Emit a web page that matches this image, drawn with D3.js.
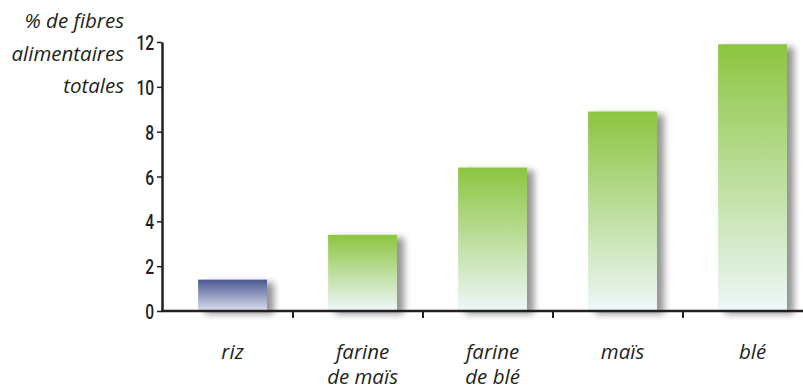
<!DOCTYPE html>
<html>
<head>
<meta charset="utf-8">
<script src="https://cdn.jsdelivr.net/npm/d3@7"></script>
<style>
  body { margin: 0; background: #fff; }
  svg { display: block; }
  .lbl { font-family: "Open Sans", "DejaVu Sans", sans-serif; font-style: italic; font-size: 20.5px; fill: #231f20; }
  .tick text { font-family: Roboto, "DejaVu Sans", sans-serif; font-weight: 500; font-size: 20px; fill: #231f20; }
</style>
</head>
<body>
<svg id="chart" width="803" height="390"></svg>
<script>
'use strict';

// data
var categories = ['riz', 'farine\nde maïs', 'farine\nde blé', 'maïs', 'blé'];
var fibreValues = [1.4, 3.4, 6.4, 8.9, 11.9];
var yTicks = [0, 2, 4, 6, 8, 10, 12];
var yTitle = ['% de fibres', 'alimentaires', 'totales'];

var svg = d3.select('#chart');
var ink = '#231f20';

var x = d3.scaleBand()
    .domain(categories)
    .range([163, 813]);

var y = d3.scaleLinear()
    .domain([0, 12])
    .range([311, 42]);

var defs = svg.append('defs');

var green = defs.append('linearGradient')
    .attr('id', 'grad-green')
    .attr('x1', 0).attr('y1', 0).attr('x2', 0).attr('y2', 1);
green.append('stop').attr('offset', '0%').attr('stop-color', '#8cc540');
green.append('stop').attr('offset', '100%').attr('stop-color', '#eef7f9');

var blue = defs.append('linearGradient')
    .attr('id', 'grad-blue')
    .attr('x1', 0).attr('y1', 0).attr('x2', 0).attr('y2', 1);
blue.append('stop').attr('offset', '0%').attr('stop-color', '#4c5892');
blue.append('stop').attr('offset', '100%').attr('stop-color', '#dae0ee');

var shadow = defs.append('filter')
    .attr('id', 'bar-shadow')
    .attr('x', '-30%').attr('y', '-30%')
    .attr('width', '160%').attr('height', '160%');
shadow.append('feGaussianBlur')
    .attr('in', 'SourceAlpha')
    .attr('stdDeviation', 3.5)
    .attr('result', 'blur');
shadow.append('feOffset')
    .attr('in', 'blur')
    .attr('dx', 7).attr('dy', 3)
    .attr('result', 'off');
shadow.append('feComponentTransfer')
    .attr('in', 'off')
    .attr('result', 'soft')
    .append('feFuncA')
    .attr('type', 'linear')
    .attr('slope', 0.42);
var merge = shadow.append('feMerge');
merge.append('feMergeNode').attr('in', 'soft');
merge.append('feMergeNode').attr('in', 'SourceGraphic');

// bars
svg.append('g')
    .selectAll('rect')
    .data(fibreValues)
    .enter()
    .append('rect')
    .attr('x', function (d, i) {
        return x(categories[i]) + x.bandwidth() * 0.27;
    })
    .attr('width', x.bandwidth() * 0.53)
    .attr('y', function (d) {
        return y(d);
    })
    .attr('height', function (d) {
        return y(0) - y(d);
    })
    .attr('fill', function (d, i) {
        return i === 0 ? 'url(#grad-blue)' : 'url(#grad-green)';
    })
    .attr('filter', 'url(#bar-shadow)');

// y axis
var yAxis = svg.append('g')
    .attr('transform', 'translate(162,0)')
    .call(d3.axisLeft(y).tickValues(yTicks).tickSize(5).tickPadding(5).tickSizeOuter(0));
yAxis.select('.domain').attr('stroke', ink).attr('stroke-width', 2.5);
yAxis.selectAll('.tick line').attr('stroke', ink).attr('stroke-width', 1.5);
// narrow the digits, like the condensed face of the original
yAxis.selectAll('.tick text')
    .attr('x', -10)
    .attr('dy', '0.36em')
    .attr('transform', 'scale(0.78,1.05)');
yAxis.attr('font-family', null).attr('font-size', null);

// x axis
var xAxis = svg.append('g')
    .attr('transform', 'translate(0,' + y(0) + ')')
    .call(d3.axisBottom(x).tickSize(0).tickFormat(''));
xAxis.select('.domain')
    .attr('d', 'M161,0H803')
    .attr('stroke', ink)
    .attr('stroke-width', 2.5);
xAxis.selectAll('.tick').remove();

// separators between categories
svg.append('g')
    .selectAll('line')
    .data(categories.slice(1))
    .enter()
    .append('line')
    .attr('x1', function (d) { return x(d); })
    .attr('x2', function (d) { return x(d); })
    .attr('y1', y(0))
    .attr('y2', y(0) + 7)
    .attr('stroke', ink)
    .attr('stroke-width', 2);

// category labels
var labels = svg.append('g')
    .selectAll('text')
    .data(categories)
    .enter()
    .append('text')
    .attr('class', 'lbl')
    .attr('text-anchor', 'middle')
    .attr('transform', function (d) {
        var cx = x(d) + x.bandwidth() * 0.535;
        return 'translate(' + cx + ',359)';
    });
labels.selectAll('tspan')
    .data(function (d) { return d.split('\n'); })
    .enter()
    .append('tspan')
    .attr('x', 0)
    .attr('dy', function (d, i) { return i === 0 ? 0 : 25; })
    .text(function (d) { return d; });

// y title
svg.append('g')
    .selectAll('text')
    .data(yTitle)
    .enter()
    .append('text')
    .attr('class', 'lbl')
    .attr('text-anchor', 'end')
    .attr('x', 124)
    .attr('y', function (d, i) { return 28 + i * 32.5; })
    .text(function (d) { return d; });
</script>
</body>
</html>
